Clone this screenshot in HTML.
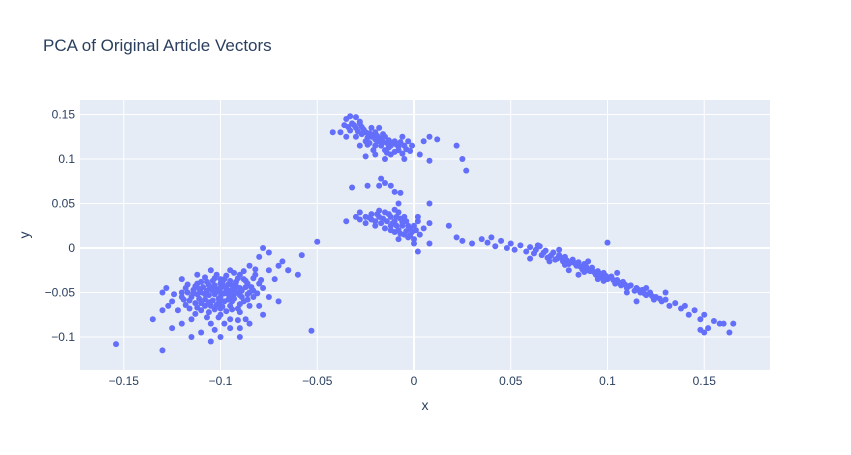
<!DOCTYPE html>
<html><head><meta charset="utf-8">
<style>
body{margin:0;background:#fff;font-family:"Liberation Sans",Arial,sans-serif;}
svg text{font-family:"Liberation Sans",Arial,sans-serif;}
</style></head>
<body>
<svg id="chart" width="851" height="450" xmlns="http://www.w3.org/2000/svg">
<rect width="851" height="450" fill="#fff"/>
<text x="43" y="51" font-size="17" fill="#2a3f5f">PCA of Original Article Vectors</text>
<rect x="80" y="100" width="690" height="270" fill="#e5ecf6"/>
<g id="grid"></g>
<g id="points"></g>
<g id="ticks"></g>
<text x="425" y="410" font-size="14" fill="#2a3f5f" text-anchor="middle">x</text>
<text x="29" y="235" font-size="14" fill="#2a3f5f" text-anchor="middle" transform="rotate(-90 29 235)">y</text>
</svg>
<script>
const xTicks = [-0.15,-0.1,-0.05,0,0.05,0.1,0.15];
const xTickLabels = ["−0.15","−0.1","−0.05","0","0.05","0.1","0.15"];
const yTicks = [-0.1,-0.05,0,0.05,0.1,0.15];
const yTickLabels = ["−0.1","−0.05","0","0.05","0.1","0.15"];

const leftCluster = [[-0.1,-0.05],[-0.105,-0.045],[-0.095,-0.055],[-0.11,-0.05],[-0.09,-0.045],[-0.1,-0.04],[-0.1,-0.06],[-0.108,-0.058],[-0.092,-0.038],[-0.098,-0.035],[-0.112,-0.04],[-0.115,-0.055],[-0.085,-0.05],[-0.088,-0.06],[-0.105,-0.065],[-0.095,-0.065],[-0.12,-0.05],[-0.118,-0.045],[-0.102,-0.03],[-0.09,-0.03],[-0.08,-0.04],[-0.082,-0.03],[-0.078,-0.045],[-0.125,-0.06],[-0.122,-0.07],[-0.11,-0.07],[-0.1,-0.075],[-0.09,-0.072],[-0.085,-0.065],[-0.095,-0.08],[-0.105,-0.085],[-0.115,-0.08],[-0.12,-0.085],[-0.11,-0.095],[-0.1,-0.1],[-0.105,-0.105],[-0.095,-0.09],[-0.09,-0.09],[-0.115,-0.1],[-0.13,-0.115],[-0.125,-0.09],[-0.13,-0.07],[-0.13,-0.05],[-0.135,-0.08],[-0.128,-0.045],[-0.12,-0.035],[-0.112,-0.03],[-0.105,-0.025],[-0.095,-0.025],[-0.085,-0.02],[-0.075,-0.025],[-0.07,-0.02],[-0.08,-0.01],[-0.075,-0.055],[-0.07,-0.06],[-0.078,-0.075],[-0.08,-0.065],[-0.072,-0.035],[-0.065,-0.025],[-0.06,-0.03],[-0.068,-0.015],[-0.075,-0.005],[-0.078,0.0],[-0.085,-0.085],[-0.09,-0.1],[-0.087,-0.08],[-0.1,-0.055],[-0.097,-0.047],[-0.103,-0.052],[-0.107,-0.048],[-0.093,-0.052],[-0.099,-0.043],[-0.101,-0.062],[-0.096,-0.058],[-0.104,-0.037],[-0.108,-0.033],[-0.113,-0.062],[-0.116,-0.068],[-0.094,-0.042],[-0.089,-0.055],[-0.086,-0.04],[-0.083,-0.048],[-0.111,-0.057],[-0.106,-0.072],[-0.117,-0.05],[-0.124,-0.052],[-0.127,-0.065],[-0.091,-0.068],[-0.097,-0.071],[-0.102,-0.046],[-0.098,-0.051],[-0.093,-0.047],[-0.106,-0.053],[-0.101,-0.057],[-0.096,-0.041],[-0.109,-0.044],[-0.091,-0.05],[-0.104,-0.059],[-0.114,-0.047],[-0.087,-0.044],[-0.1,-0.035],[-0.094,-0.06],[-0.107,-0.038],[-0.099,-0.066],[-0.088,-0.035],[-0.112,-0.052],[-0.103,-0.042],[-0.096,-0.052],[-0.083,-0.055],[-0.119,-0.058],
[-0.102,-0.049],[-0.097,-0.044],[-0.092,-0.043],[-0.089,-0.048],[-0.095,-0.048],[-0.1,-0.045],[-0.104,-0.048],[-0.108,-0.052],[-0.111,-0.046],[-0.114,-0.051],[-0.116,-0.059],[-0.11,-0.062],[-0.106,-0.061],[-0.102,-0.064],[-0.098,-0.06],[-0.093,-0.057],[-0.09,-0.053],[-0.086,-0.052],[-0.084,-0.044],[-0.087,-0.037],[-0.091,-0.034],[-0.095,-0.037],[-0.099,-0.039],[-0.103,-0.034],[-0.106,-0.042],[-0.11,-0.038],[-0.113,-0.043],[-0.117,-0.041],[-0.12,-0.055],[-0.118,-0.064],[-0.112,-0.067],[-0.108,-0.065],[-0.103,-0.069],[-0.1,-0.068],[-0.094,-0.069],[-0.09,-0.063],[-0.086,-0.058],[-0.081,-0.051],[-0.079,-0.036],[-0.083,-0.034],[-0.097,-0.031],[-0.093,-0.028],[-0.088,-0.026],[-0.082,-0.024],[-0.101,-0.078],[-0.107,-0.078],[-0.113,-0.074],[-0.098,-0.085],[-0.103,-0.092],[-0.091,-0.081],
[-0.154,-0.108],[-0.053,-0.093]];

const topCluster = [[-0.035,0.145],[-0.032,0.14],[-0.03,0.135],[-0.028,0.14],[-0.025,0.13],[-0.022,0.125],[-0.02,0.13],[-0.018,0.12],[-0.015,0.125],[-0.012,0.115],[-0.01,0.12],[-0.008,0.11],[-0.005,0.115],[-0.003,0.12],[-0.025,0.12],[-0.02,0.115],[-0.015,0.11],[-0.012,0.105],[-0.022,0.135],[-0.027,0.128],[-0.03,0.125],[-0.033,0.132],[-0.036,0.138],[-0.038,0.13],[-0.042,0.13],[-0.018,0.135],[-0.014,0.118],[-0.017,0.123],[-0.023,0.118],[-0.01,0.108],[-0.006,0.125],[-0.001,0.115],[0.003,0.105],[0.005,0.12],[0.008,0.125],[0.012,0.122],[0.008,0.098],[-0.005,0.1],[-0.015,0.1],[-0.02,0.105],[-0.025,0.103],[-0.028,0.115],[-0.035,0.125],[-0.033,0.148],[-0.03,0.147],[-0.028,0.142],[-0.021,0.127],[-0.019,0.12],[-0.016,0.128],[-0.024,0.124],[-0.013,0.121],[-0.009,0.116],
[-0.026,0.133],[-0.023,0.129],[-0.019,0.126],[-0.016,0.119],[-0.013,0.113],[-0.011,0.118],[-0.007,0.119],[-0.004,0.111],[-0.008,0.114],[-0.02,0.122],[-0.024,0.116],[-0.029,0.131],[-0.031,0.138],[-0.034,0.136],[-0.027,0.136],[-0.017,0.115],[-0.014,0.107],[-0.021,0.11],[-0.002,0.109],[-0.006,0.106],
[0.022,0.115],[0.025,0.1],[0.027,0.087]];

const bridgePoints = [[-0.024,0.07],[-0.018,0.07],[-0.012,0.07],[-0.017,0.078],[-0.015,0.073],[-0.01,0.063],[-0.032,0.068],[-0.007,0.062],[0.008,0.05],[-0.008,0.05]];

const middleCluster = [[-0.035,0.03],[-0.03,0.035],[-0.028,0.04],[-0.025,0.035],[-0.022,0.038],[-0.02,0.03],[-0.018,0.035],[-0.015,0.04],[-0.012,0.035],[-0.01,0.03],[-0.008,0.04],[-0.005,0.035],[-0.02,0.025],[-0.015,0.022],[-0.012,0.025],[-0.01,0.018],[-0.008,0.02],[-0.005,0.015],[-0.003,0.012],[0.0,0.01],[-0.002,0.022],[-0.025,0.028],[-0.028,0.032],[-0.018,0.042],[-0.01,0.043],[-0.004,0.03],[0.0,0.025],[0.002,0.03],[0.003,0.015],[-0.006,0.025],[-0.014,0.03],[-0.022,0.032],[-0.008,0.01],[0.0,0.005],[0.002,0.035],[0.008,0.028],[0.005,0.022],[-0.016,0.033],[-0.011,0.028],[-0.007,0.033],
[-0.019,0.038],[-0.013,0.038],[-0.009,0.035],[-0.006,0.029],[-0.003,0.025],[-0.001,0.018],[-0.004,0.019],[-0.007,0.016],[-0.012,0.02],[-0.017,0.028],[-0.023,0.034],[-0.009,0.025],[-0.002,0.014],[0.001,0.02],
[-0.05,0.007],[-0.058,-0.008],[-0.065,-0.025],[0.002,-0.004],[0.008,0.005],[0.018,0.025]];

const rightCluster = [[0.022,0.012],[0.025,0.008],[0.03,0.005],[0.035,0.01],[0.038,0.006],[0.04,0.012],[0.042,0.002],[0.045,0.008],[0.048,0.0],[0.05,0.005],[0.052,-0.002],[0.055,0.003],[0.058,-0.004],[0.06,0.001],[0.062,-0.006],[0.064,0.003],[0.066,-0.008],[0.068,-0.003],[0.07,-0.01],[0.072,-0.005],[0.074,-0.012],[0.075,-0.008],[0.077,-0.015],[0.078,-0.01],[0.08,-0.018],[0.082,-0.013],[0.084,-0.02],[0.085,-0.016],[0.087,-0.024],[0.088,-0.018],[0.09,-0.025],[0.092,-0.022],[0.094,-0.03],[0.095,-0.026],[0.097,-0.033],[0.098,-0.028],[0.1,-0.035],[0.102,-0.032],[0.104,-0.04],[0.105,-0.036],[0.107,-0.042],[0.108,-0.038],[0.11,-0.045],[0.112,-0.042],[0.114,-0.048],[0.115,-0.045],[0.117,-0.05],[0.118,-0.047],[0.12,-0.053],[0.122,-0.05],[0.124,-0.058],[0.125,-0.055],[0.128,-0.06],[0.13,-0.058],[0.132,-0.065],[0.135,-0.062],[0.138,-0.068],[0.14,-0.065],[0.142,-0.075],[0.145,-0.07],[0.148,-0.08],[0.15,-0.075],[0.152,-0.09],[0.155,-0.082],[0.158,-0.085],[0.16,-0.085],[0.165,-0.085],[0.163,-0.095],[0.148,-0.092],[0.15,-0.095],[0.1,0.006],[0.07,-0.015],[0.08,-0.025],[0.09,-0.015],[0.095,-0.035],[0.105,-0.028],[0.11,-0.05],[0.12,-0.045],[0.06,-0.012],[0.065,0.002],[0.085,-0.03],[0.075,-0.002],[0.115,-0.06],[0.13,-0.05],[0.079,-0.014],[0.083,-0.017],[0.089,-0.021],[0.093,-0.027],[0.099,-0.031],[0.103,-0.036],[0.109,-0.041],
[0.067,-0.005],[0.071,-0.008],[0.073,-0.013],[0.076,-0.011],[0.081,-0.016],[0.086,-0.021],[0.091,-0.026],[0.096,-0.029],[0.101,-0.033],[0.106,-0.039],[0.111,-0.043],[0.116,-0.047],[0.119,-0.051],[0.123,-0.054],[0.127,-0.057],[0.063,-0.002],[0.069,-0.011],[0.078,-0.019],[0.088,-0.027],[0.098,-0.037]];

const NS="http://www.w3.org/2000/svg";
function xScale(v){return 414 + v*1935;}
function yScale(v){return 248 - v*890;}
const grid=document.getElementById('grid');
const ticks=document.getElementById('ticks');
xTicks.forEach((t,i)=>{
  const l=document.createElementNS(NS,'line');
  
  
  l.setAttribute('x1',xScale(t));l.setAttribute('x2',xScale(t));
  l.setAttribute('y1',100);l.setAttribute('y2',370);
  l.setAttribute('stroke','#fff');l.setAttribute('stroke-width',t===0?2:1);
  grid.appendChild(l);
  const tx=document.createElementNS(NS,'text');
  
  
  tx.setAttribute('x',xScale(t));tx.setAttribute('y',385);
  tx.setAttribute('text-anchor','middle');tx.setAttribute('font-size','12');tx.setAttribute('fill','#2a3f5f');
  tx.textContent=xTickLabels[i];ticks.appendChild(tx);
});
yTicks.forEach((t,i)=>{
  const l=document.createElementNS(NS,'line');
  
  
  l.setAttribute('x1',80);l.setAttribute('x2',770);
  l.setAttribute('y1',yScale(t));l.setAttribute('y2',yScale(t));
  l.setAttribute('stroke','#fff');l.setAttribute('stroke-width',t===0?2:1);
  grid.appendChild(l);
  const tx=document.createElementNS(NS,'text');
  
  
  tx.setAttribute('x',75);tx.setAttribute('y',yScale(t)+4);
  tx.setAttribute('text-anchor','end');tx.setAttribute('font-size','12');tx.setAttribute('fill','#2a3f5f');
  tx.textContent=yTickLabels[i];ticks.appendChild(tx);
});
const pg=document.getElementById('points');
[leftCluster,topCluster,bridgePoints,middleCluster,rightCluster].forEach(arr=>{
  arr.forEach(p=>{
    const c=document.createElementNS(NS,'circle');
    
    
    c.setAttribute('cx',xScale(p[0]));c.setAttribute('cy',yScale(p[1]));
    c.setAttribute('r',3);c.setAttribute('fill','#636efa');
    pg.appendChild(c);
  });
});
</script>
</body></html>
